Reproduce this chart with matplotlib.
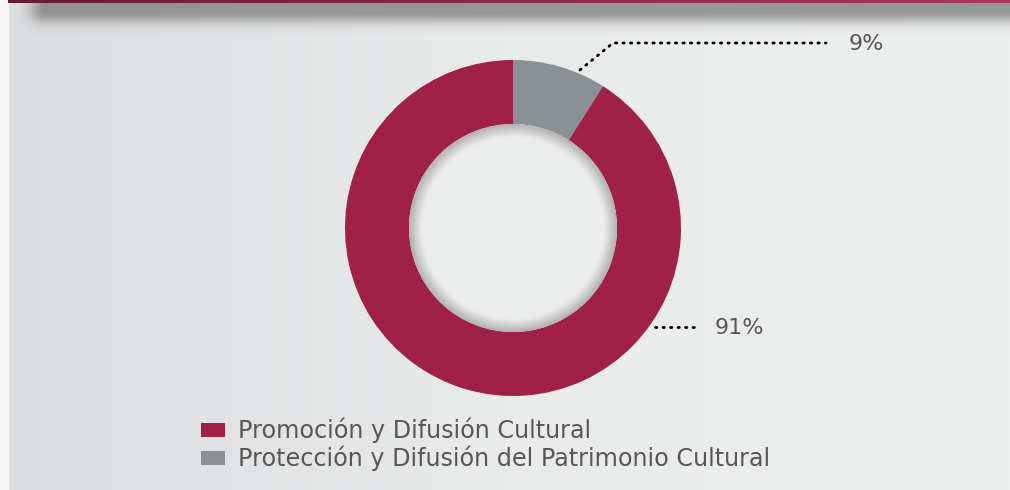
import numpy as np
import matplotlib.pyplot as plt
from matplotlib.colors import LinearSegmentedColormap
from matplotlib.patches import Circle, Rectangle

categorias = ["Promoción y Difusión Cultural",
              "Protección y Difusión del Patrimonio Cultural"]
porcentajes = [91, 9]
colores = ["#9f2148", "#8b9095"]
texto_color = "#575757"

plt.rcParams["font.family"] = ["DejaVu Sans"]

W, H = 1010, 490
fig = plt.figure(figsize=(W / 100, H / 100), dpi=100)
ax = fig.add_axes([0, 0, 1, 1])

# fondo con degradado suave
bg = np.linspace(0, 1, 256).reshape(1, -1)
ax.imshow(bg, extent=(0, W, 0, H), cmap=LinearSegmentedColormap.from_list(
    "bg", ["#dcdddf", "#e9eaea", "#eeefef"]), aspect="auto", zorder=0)
ax.add_patch(Rectangle((0, 0), 8, H, color="#f6f6f6", zorder=1))

# barra superior y su sombra
top = np.linspace(0, 1, 256).reshape(1, -1)
ax.imshow(top, extent=(8, W, H - 3, H), cmap=LinearSegmentedColormap.from_list(
    "top", ["#6a1a34", "#8a2a48", "#a8385a"]), aspect="auto", zorder=3)
y = np.linspace(0, 1, 120)
prof = np.where(y < 0.25, 1.0, np.exp(-((y - 0.25) / 0.33) ** 2))
sh = np.zeros((120, 600, 4))
sh[..., :3] = 0.45
xfade = np.clip(np.linspace(0, 1, 600) * 40, 0, 1) ** 1.5
sh[..., 3] = prof[:, None] * xfade[None, :] * 0.7
ax.imshow(sh, extent=(16, W, H - 38, H - 2), aspect="auto", zorder=2,
          interpolation="bilinear")

# dona
cx, cy = 513, H - 228
ax.pie(porcentajes[::-1], colors=colores[::-1], startangle=90, counterclock=False,
       center=(cx, cy), radius=168, wedgeprops=dict(width=64, linewidth=0), frame=True)
r_in = 104
for i in range(14):
    g = 0.70 + i * 0.0165
    ax.add_patch(Circle((cx, cy), r_in - i * 0.9, color=(g, g, g + 0.003), zorder=4, lw=0))
ax.add_patch(Circle((cx, cy), r_in - 13, color="#ebecec", zorder=4, lw=0))

# etiquetas con líneas punteadas
dot = dict(color="black", lw=2, linestyle=(0, (0.5, 2.2)), dash_capstyle="round", zorder=5)
ax.plot([580, 613, 826], [H - 70, H - 43, H - 43], **dot)
ax.text(849, H - 44, f"{porcentajes[1]}%", fontsize=16, color=texto_color, va="center", ha="left")
ax.plot([655, 698], [H - 327, H - 327], **dot)
ax.text(715, H - 328, f"{porcentajes[0]}%", fontsize=16, color=texto_color, va="center", ha="left")

# leyenda
for i, (cat, col) in enumerate(zip(categorias, colores)):
    yy = H - 430 - i * 28
    ax.add_patch(Rectangle((201, yy - 7), 24, 14, color=col, lw=0, zorder=5))
    ax.text(238, yy, cat, fontsize=17.2, color=texto_color, va="center", ha="left")

ax.set_xlim(0, W)
ax.set_ylim(0, H)
ax.set_aspect("auto")
ax.axis("off")

fig.savefig("out.png", dpi=100)
plt.close()
